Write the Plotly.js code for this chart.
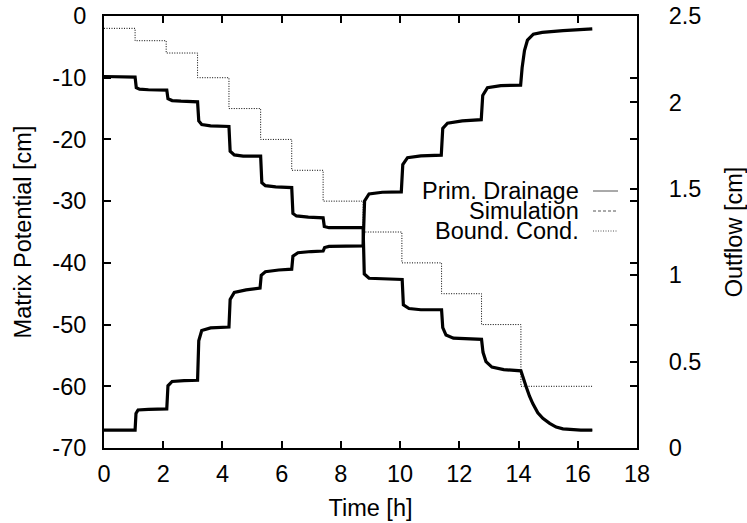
<!DOCTYPE html>
<html>
<head>
<meta charset="utf-8">
<script src="https://cdn.plot.ly/plotly-3.0.1.min.js"></script>
<style>html,body{margin:0;padding:0;background:#fff}#chart{width:747px;height:523px}</style>
</head>
<body>
<div id="chart"></div>
<script>
// Matrix potential (primary drainage), left axis [cm]
const potT = [0, 1.05, 1.09, 1.2, 1.5, 2.12, 2.16, 2.3, 2.6, 3.16, 3.2, 3.3, 3.6, 4.22, 4.26, 4.4, 4.7,
  5.29, 5.33, 5.45, 5.8, 6.34, 6.38, 6.5, 6.9, 7.40, 7.44, 7.6, 8.75, 8.79, 8.95, 9.4, 10.07, 10.11, 10.3, 10.7,
  11.40, 11.44, 11.55, 11.8, 12.75, 12.8, 12.9, 13.1, 13.5, 14.08, 14.17, 14.26, 14.37, 14.48, 14.65, 14.82,
  15.05, 15.27, 15.5, 15.72, 16.1, 16.49];
const potV = [-9.8, -9.9, -11.6, -11.85, -11.95, -12.0, -13.4, -13.7, -13.8, -13.9, -17.0, -17.6, -17.8, -17.9, -21.9, -22.5, -22.7,
  -22.7, -27.0, -27.5, -27.7, -27.8, -32.0, -32.4, -32.6, -32.7, -34.1, -34.3, -34.3, -41.8, -42.5, -42.6, -42.7, -46.8, -47.4, -47.6,
  -47.6, -50.5, -51.7, -52.2, -52.4, -54.5, -56.0, -56.9, -57.3, -57.5, -59.0, -60.1, -61.6, -62.8, -64.3, -65.2,
  -66.0, -66.6, -66.9, -67.0, -67.1, -67.1];

// Outflow, right axis [cm]
const outT = [0, 1.05, 1.08, 1.15, 1.5, 2.12, 2.16, 2.3, 2.7, 3.16, 3.2, 3.3, 3.6, 4.22, 4.26, 4.4, 4.8,
  5.27, 5.31, 5.45, 5.9, 6.34, 6.38, 6.55, 7.0, 7.40, 7.45, 7.6, 8.75, 8.8, 8.95, 9.4, 10.04, 10.09, 10.25, 10.7,
  11.39, 11.44, 11.6, 12.1, 12.74, 12.79, 12.95, 13.4, 14.07, 14.12, 14.2, 14.3, 14.5, 14.8, 15.5, 16.49];
const outV = [0.104, 0.104, 0.2, 0.22, 0.224, 0.226, 0.36, 0.385, 0.39, 0.392, 0.62, 0.68, 0.695, 0.70, 0.86, 0.9, 0.915,
  0.925, 1.0, 1.02, 1.03, 1.035, 1.11, 1.13, 1.137, 1.14, 1.16, 1.167, 1.17, 1.43, 1.47, 1.48, 1.482, 1.64, 1.68, 1.69,
  1.695, 1.85, 1.88, 1.893, 1.9, 2.04, 2.085, 2.097, 2.1, 2.2, 2.3, 2.36, 2.395, 2.405, 2.415, 2.425];

// Boundary condition (pressure steps), left axis [cm]
const bcT = [0, 1.05, 2.1, 3.16, 4.22, 5.29, 6.34, 7.4, 8.75, 10.06, 11.4, 12.75, 14.08, 16.49];
const bcV = [-2, -4, -6, -10, -15, -20, -25, -30, -35, -40, -45, -50, -60, -60];

// Axis ticks
const yTicks = [0, -10, -20, -30, -40, -50, -60, -70];
const yTickText = ["0", "-10", "-20", "-30", "-40", "-50", "-60", "-70"];
const y2Ticks = [0, 0.5, 1, 1.5, 2, 2.5];
const y2TickText = ["0", "0.5", "1", "1.5", "2", "2.5"];
const xTicks = [0, 2, 4, 6, 8, 10, 12, 14, 16, 18];

const legendNames = ["Prim. Drainage", "Simulation", "Bound. Cond."];

const FONT = "Liberation Sans, Arial, Helvetica, sans-serif";
const FS = 23.5;

const traces = [
  {x: bcT, y: bcV, mode: "lines", line: {shape: "hv", color: "#000", width: 1, dash: "1px,1.5px"}, yaxis: "y", showlegend: false, hoverinfo: "skip"},
  {x: potT, y: potV, mode: "lines", line: {color: "#000", width: 1, dash: "4px,3px"}, yaxis: "y", showlegend: false},
  {x: outT, y: outV, mode: "lines", line: {color: "#000", width: 1, dash: "4px,3px"}, yaxis: "y2", showlegend: false},
  {x: potT, y: potV, mode: "lines", line: {color: "#000", width: 3.2}, yaxis: "y", showlegend: false},
  {x: outT, y: outV, mode: "lines", line: {color: "#000", width: 3.2}, yaxis: "y2", showlegend: false}
];

const L = 104, R = 110, T = 16, B = 75, W = 747, H = 523;
const pw = W - L - R, ph = H - T - B;
const px = v => (v - L) / pw;
const py = v => (H - B - v) / ph;

const legTextY = [191, 211, 231];
const legDash = ["solid", "3px,2px", "1px,1.5px"];
const annotations = legendNames.map((n, i) => ({
  text: n, xref: "paper", yref: "paper", x: px(581), y: py(legTextY[i]),
  xanchor: "right", yanchor: "middle", showarrow: false,
  font: {family: FONT, size: FS, color: "#000"}
}));
const shapes = legendNames.map((n, i) => ({
  type: "line", xref: "paper", yref: "paper",
  x0: px(593), x1: px(618), y0: py(legTextY[i]), y1: py(legTextY[i]),
  line: {color: "#555", width: 1, dash: legDash[i]}
}));

const axisCommon = {
  showgrid: false, zeroline: false, showline: true, linecolor: "#000", linewidth: 2,
  ticks: "inside", ticklen: 7, tickwidth: 2, tickcolor: "#000",
  tickfont: {family: FONT, size: FS, color: "#000"}
};

const layout = {
  width: W, height: H,
  margin: {l: L, r: R, t: T, b: B, pad: 0},
  paper_bgcolor: "#fff", plot_bgcolor: "#fff",
  font: {family: FONT, size: FS, color: "#000"},
  showlegend: false,
  xaxis: Object.assign({}, axisCommon, {
    range: [0, 18], tickvals: xTicks, mirror: "ticks", ticklabelstandoff: 4,
    title: {text: "Time [h]", font: {family: FONT, size: FS}, standoff: 13}
  }),
  yaxis: Object.assign({}, axisCommon, {
    range: [-70, 0], tickvals: yTicks, ticktext: yTickText, mirror: "ticks", ticklabelstandoff: 11,
    title: {text: "Matrix Potential [cm]", font: {family: FONT, size: FS}, standoff: 14}
  }),
  yaxis2: Object.assign({}, axisCommon, {
    range: [0, 2.5], tickvals: y2Ticks, ticktext: y2TickText, overlaying: "y", side: "right", ticklabelstandoff: 25,
    title: {text: "Outflow [cm]", font: {family: FONT, size: FS}, standoff: 30}
  }),
  annotations: annotations,
  shapes: shapes
};

Plotly.newPlot("chart", traces, layout, {staticPlot: true, displayModeBar: false});
</script>
</body>
</html>
